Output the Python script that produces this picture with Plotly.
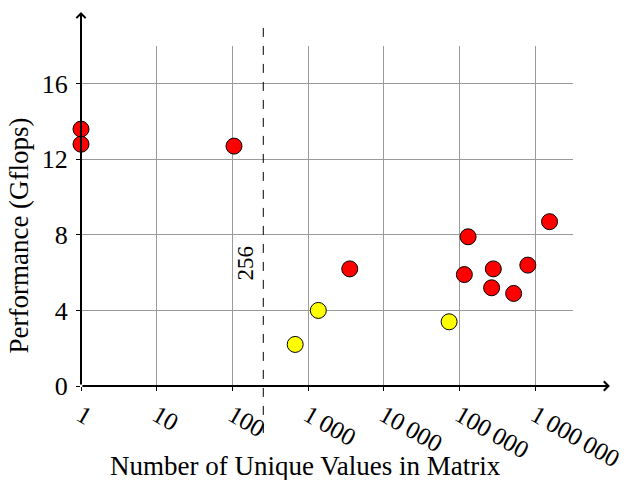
import plotly.graph_objects as go

# Data
red_x = [1, 1, 105, 3550, 130000, 116000, 280000, 266000, 520000, 800000, 1550000]
red_y = [13.6, 12.8, 12.7, 6.2, 7.9, 5.9, 6.2, 5.2, 4.9, 6.4, 8.7]
yellow_x = [675, 1365, 73000]
yellow_y = [2.2, 4.0, 3.4]

x_tickvals = [1, 10, 100, 1000, 10000, 100000, 1000000]
x_ticktext = ["1", "10", "100", "1\u2009000", "10\u2009000", "100\u2009000", "1\u2009000\u2009000"]
y_tickvals = [0, 4, 8, 12, 16]
threshold = 256

FONT = "Liberation Serif"

fig = go.Figure()
fig.add_trace(go.Scatter(
    x=red_x, y=red_y, mode="markers", cliponaxis=False,
    marker=dict(size=16, color="#FF0000", line=dict(color="black", width=1)),
    showlegend=False))
fig.add_trace(go.Scatter(
    x=yellow_x, y=yellow_y, mode="markers", cliponaxis=False,
    marker=dict(size=16, color="#FFFF00", line=dict(color="black", width=1)),
    showlegend=False))

# dashed threshold line
fig.add_shape(type="line", xref="x", yref="paper", x0=threshold, x1=threshold,
              y0=-0.138, y1=1.062, line=dict(color="black", width=1, dash="dash"))
fig.add_annotation(x=2.408, y=6.5, xref="x", yref="y", text=str(threshold),
                   textangle=-90, showarrow=False, xanchor="center", yanchor="middle",
                   xshift=-18, font=dict(family=FONT, size=23, color="black"))

# axis arrows
fig.add_annotation(xref="paper", yref="paper", x=1.075, y=0, ax=-529, ay=0,
                   axref="pixel", ayref="pixel", text="", showarrow=True,
                   arrowhead=4, arrowwidth=2, arrowsize=0.9, arrowcolor="black")
fig.add_annotation(xref="paper", yref="paper", x=0, y=1.1, ax=0, ay=374,
                   axref="pixel", ayref="pixel", text="", showarrow=True,
                   arrowhead=4, arrowwidth=2, arrowsize=0.9, arrowcolor="black")

# axis titles
fig.add_annotation(xref="paper", yref="paper", x=0.457, y=-0.235, text="Number of Unique Values in Matrix",
                   showarrow=False, xanchor="center", yanchor="middle",
                   font=dict(family=FONT, size=27, color="black"))
fig.add_annotation(xref="paper", yref="paper", x=-0.125, y=0.441, text="Performance (Gflops)",
                   textangle=-90, showarrow=False, xanchor="center", yanchor="middle",
                   font=dict(family=FONT, size=27, color="black"))

fig.update_xaxes(type="log", range=[0, 6.5], tickvals=x_tickvals, ticktext=x_ticktext,
                 tickangle=30, showgrid=True, gridcolor="#9a9a9a", gridwidth=1,
                 zeroline=False, showline=False, ticks="outside", ticklen=4,
                 tickcolor="black", automargin=False, ticklabelstandoff=0,
                 ticklabeloverflow="allow",
                 tickfont=dict(family=FONT, size=25, color="black"))
fig.update_yaxes(range=[0, 18], tickvals=y_tickvals, showgrid=True, gridcolor="#9a9a9a",
                 gridwidth=1, zeroline=False, showline=False, ticks="outside", ticklen=4,
                 tickcolor="black", automargin=False, ticklabelstandoff=3,
                 ticklabeloverflow="allow",
                 tickfont=dict(family=FONT, size=26, color="black"))

fig.update_layout(width=626, height=480, margin=dict(l=81, r=53, t=46, b=94, pad=0),
                  plot_bgcolor="white", paper_bgcolor="white")

fig.write_html("out.html", config={"displayModeBar": False},
               post_script="document.body.style.margin='0';")
